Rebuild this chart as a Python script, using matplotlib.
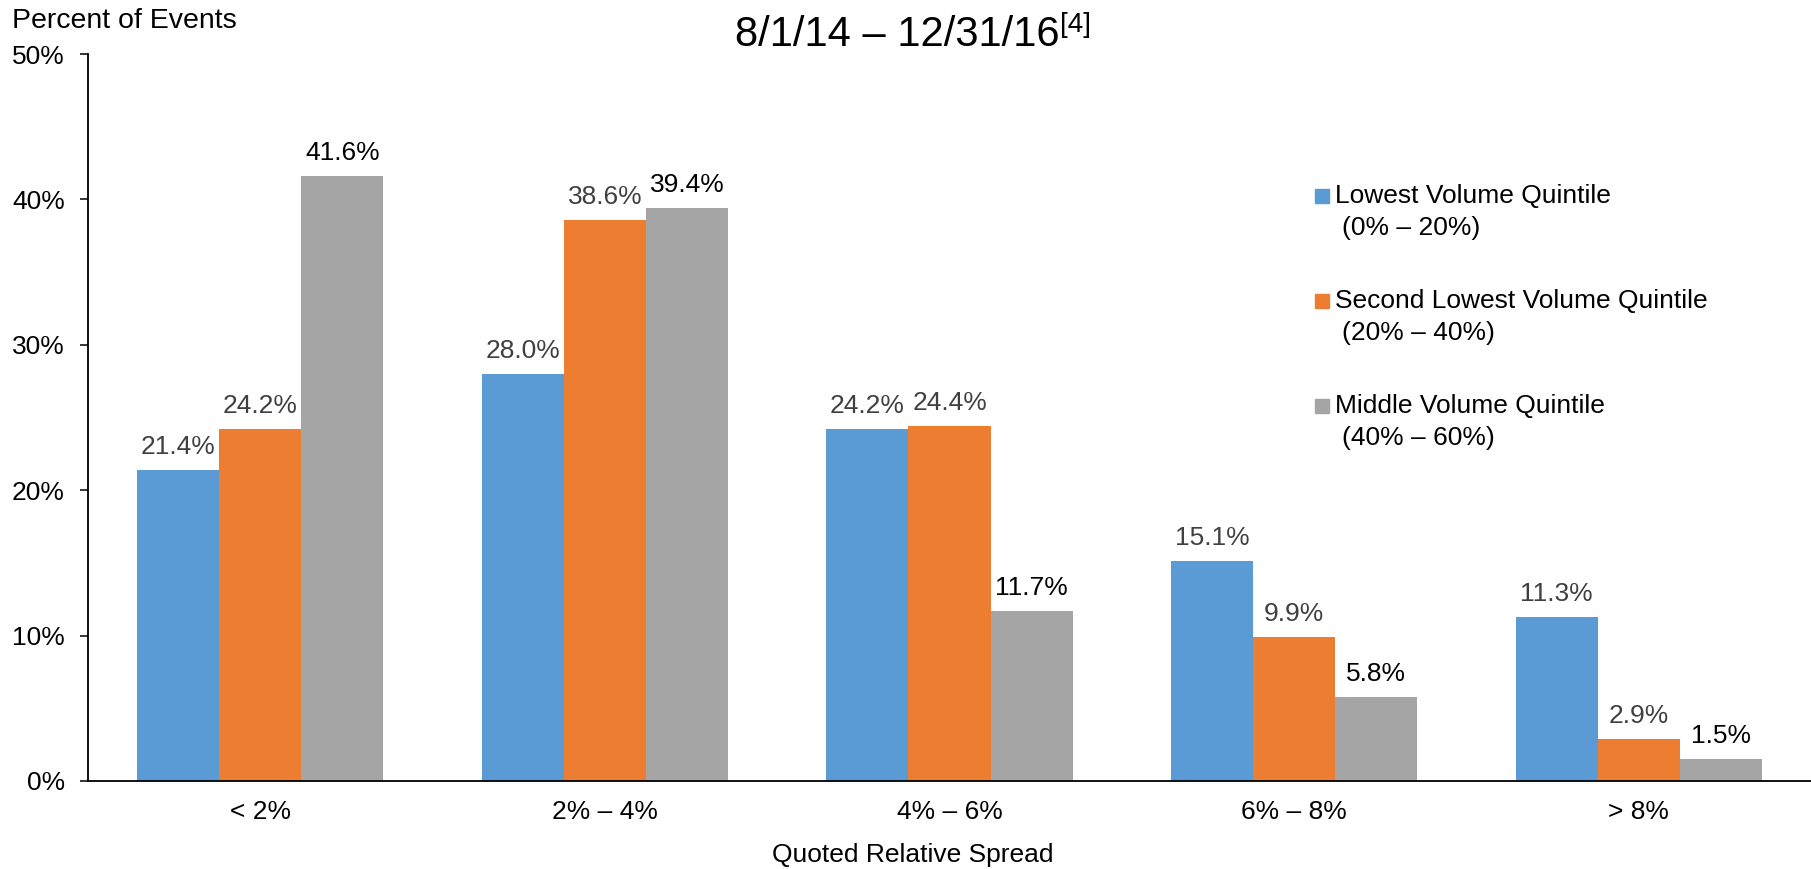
import numpy as np
import matplotlib.pyplot as plt
from matplotlib.patches import Rectangle

plt.rcParams['font.family'] = ['Liberation Sans', 'DejaVu Sans']

categories = ['< 2%', '2% – 4%', '4% – 6%', '6% – 8%', '> 8%']
series_names = ['Lowest Volume Quintile', 'Second Lowest Volume Quintile', 'Middle Volume Quintile']
series_ranges = ['(0% – 20%)', '(20% – 40%)', '(40% – 60%)']
lowest = [21.4, 28.0, 24.2, 15.1, 11.3]
second_lowest = [24.2, 38.6, 24.4, 9.9, 2.9]
middle = [41.6, 39.4, 11.7, 5.8, 1.5]

colors = ['#5B9BD5', '#ED7D31', '#A5A5A5']
label_colors = ['#404040', '#404040', '#000000']

W, H, DPI = 1811, 869, 100
fig = plt.figure(figsize=(W / DPI, H / DPI), dpi=DPI)
ax = fig.add_axes([88 / W, 88 / H, (W - 88) / W, 727 / H])

x = np.arange(len(categories))
bar_w = 0.238
for i, vals in enumerate([lowest, second_lowest, middle]):
    pos = x + (i - 1) * bar_w
    ax.bar(pos, vals, width=bar_w, color=colors[i], zorder=2)
    for xp, v in zip(pos, vals):
        ax.annotate(f'{v:.1f}%', (xp, v), xytext=(0, 16), textcoords='offset pixels',
                    ha='center', va='baseline', fontsize=19, color=label_colors[i])

ax.set_xlim(-0.5, 4.5)
ax.set_ylim(0, 50)
ax.set_yticks(range(0, 51, 10))
ax.set_yticklabels([f'{t}%' for t in range(0, 51, 10)])
ax.set_xticks(x)
ax.set_xticklabels(categories)
ax.tick_params(axis='y', length=5.8, width=1.1, pad=11, labelsize=19)
ax.tick_params(axis='x', length=0, pad=14, labelsize=19)
for side in ['top', 'right']:
    ax.spines[side].set_visible(False)
for side in ['left', 'bottom']:
    ax.spines[side].set_linewidth(1.3)

fig.text(12 / W, 1 - 21 / H, 'Percent of Events', fontsize=20.5, ha='left', va='center')
fig.text(913 / W, 1 - 855 / H, 'Quoted Relative Spread', fontsize=19, ha='center', va='center')

# date range with a bracketed footnote marker as superscript
title = fig.text(897 / W, 1 - 35 / H, '8/1/14 – 12/31/16', fontsize=30, ha='center', va='center')
ax.annotate('[4]', xy=(1, 1), xycoords=title, xytext=(1, 3), textcoords='offset pixels',
            ha='left', va='top', fontsize=20, annotation_clip=False)

# legend drawn by hand: swatch beside the first line, range on a second line
for i, (name, rng) in enumerate(zip(series_names, series_ranges)):
    yc = 196 + i * 105
    fig.patches.append(Rectangle((1315 / W, 1 - (yc + 7) / H), 14 / W, 14 / H,
                                 transform=fig.transFigure, color=colors[i]))
    fig.text(1335 / W, 1 - yc / H, name, fontsize=19, ha='left', va='center')
    fig.text(1342 / W, 1 - (yc + 32) / H, rng, fontsize=19, ha='left', va='center')

fig.savefig('out.png', dpi=DPI)
